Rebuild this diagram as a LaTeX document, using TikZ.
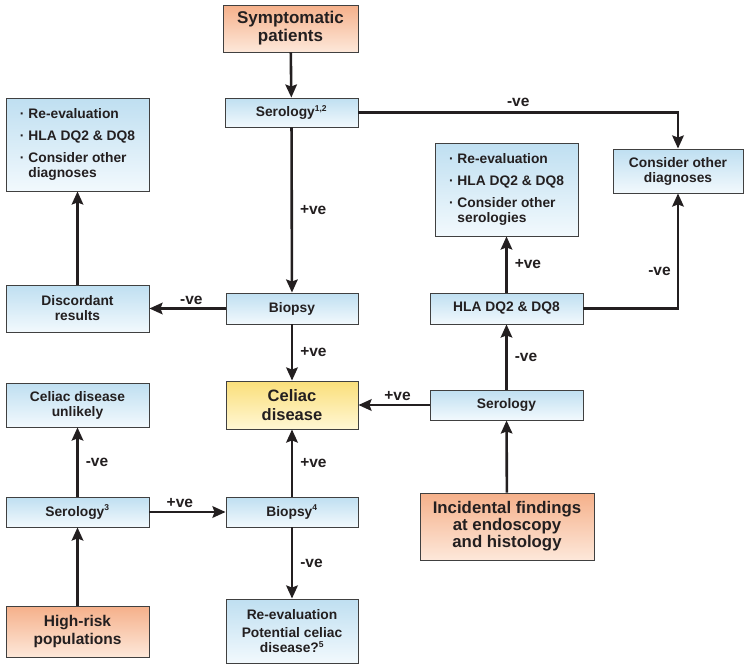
\documentclass[tikz,border=0pt]{standalone}
\usepackage{fontspec}
\setmainfont{Liberation Sans}
\usetikzlibrary{arrows.meta}
\definecolor{bluetop}{HTML}{BFDFF1}
\definecolor{bluebot}{HTML}{F2F9FD}
\definecolor{ortop}{HTML}{F5B08A}
\definecolor{orbot}{HTML}{FDE8DA}
\definecolor{yetop}{HTML}{FADF7A}
\definecolor{yebot}{HTML}{FFF7D4}
\definecolor{ink}{HTML}{231F20}
\newcommand{\supnum}[1]{\textsuperscript{\fontsize{8.5}{9}\selectfont #1}}
\tikzset{
  box/.style={draw=black!75, line width=0.9pt, align=center, inner sep=2pt, text=ink, font=\bfseries},
  bluebox/.style={box, top color=bluetop, bottom color=bluebot, font=\bfseries\fontsize{13.8}{15}\selectfont},
  orbox/.style={box, top color=ortop, bottom color=orbot, font=\bfseries\fontsize{17}{18}\selectfont},
  yebox/.style={box, top color=yetop, bottom color=yebot, font=\bfseries\fontsize{16.5}{19}\selectfont},
  arr/.style={line width=2.6pt, -{Stealth[length=13pt,width=11.5pt,inset=2pt]}, ink},
  lbl/.style={font=\bfseries\fontsize{15.5}{16}\selectfont, text=ink, inner sep=1pt}
}
\begin{document}
\begin{tikzpicture}[x=1pt,y=-1pt]
\useasboundingbox (0,0) rectangle (750,670);
% column 2
\node[orbox, minimum width=135pt, minimum height=47pt] (sym) at (290.5,28.5) {Symptomatic\\patients};
\node[bluebox, minimum width=133pt, minimum height=29pt] (ser1) at (291.5,112.5) {Serology\supnum{1,2}};
\node[bluebox, minimum width=132pt, minimum height=31pt] (bio) at (292,308.5) {Biopsy};
\node[yebox, minimum width=132pt, minimum height=48pt] (cel) at (292,405) {Celiac\\disease};
\node[bluebox, minimum width=132pt, minimum height=30pt] (bio4) at (292,512) {Biopsy\supnum{4}};
\node[bluebox, minimum width=132pt, minimum height=64pt, font=\bfseries\fontsize{13.8}{14.5}\selectfont] (re) at (292,631) {Re-evaluation\\[4pt]Potential celiac\\disease?\supnum{5}};
% column 1
\node[bluebox, minimum width=143pt, minimum height=93pt, align=left] (lt) at (77.5,144.5) {· Re-evaluation\\[7pt]· HLA DQ2 \& DQ8\\[7pt]· Consider other\\\phantom{· }diagnoses};
\node[bluebox, minimum width=143pt, minimum height=47pt] (disc) at (77.5,308.5) {Discordant\\results};
\node[bluebox, minimum width=143pt, minimum height=44pt] (unl) at (77.5,405) {Celiac disease\\unlikely};
\node[bluebox, minimum width=143pt, minimum height=30pt] (ser3) at (77.5,512) {Serology\supnum{3}};
\node[orbox, minimum width=143pt, minimum height=51pt, font=\bfseries\fontsize{15.5}{18}\selectfont] (hr) at (77.5,631.5) {High-risk\\populations};
% column 3
\node[bluebox, minimum width=143pt, minimum height=93pt, align=left] (mid) at (506.5,189.5) {· Re-evaluation\\[7pt]· HLA DQ2 \& DQ8\\[7pt]· Consider other\\\phantom{· }serologies};
\node[bluebox, minimum width=153pt, minimum height=31pt] (hla) at (506.5,308.5) {HLA DQ2 \& DQ8};
\node[bluebox, minimum width=153pt, minimum height=30pt] (ser2) at (506.5,405) {Serology};
\node[orbox, minimum width=174pt, minimum height=67pt, font=\bfseries\fontsize{16.8}{17}\selectfont] (inc) at (507,526.5) {Incidental findings\\at endoscopy\\and histology};
% column 4
\node[bluebox, minimum width=130pt, minimum height=44pt] (cod) at (678,171) {Consider other\\diagnoses};
% connectors
\draw[arr] (sym) -- (ser1);
\draw[arr] (ser1) -- node[lbl, right=6pt] {+ve} (bio);
\draw[arr] (ser1.east) -- node[lbl, above=4pt] {-ve} (cod.north |- ser1.east) -- (cod.north);
\draw[arr] (bio) -- node[lbl, above=2pt, pos=0.45] {-ve} (disc);
\draw[arr] (disc) -- (lt);
\draw[arr] (bio) -- node[lbl, right=6pt] {+ve} (cel);
\draw[arr] (ser2) -- node[lbl, above=2pt, pos=0.45] {+ve} (cel);
\draw[arr] (ser2) -- node[lbl, right=6pt] {-ve} (hla);
\draw[arr] (hla) -- node[lbl, right=6pt] {+ve} (mid);
\draw[arr] (hla.east) -- (cod.south |- hla.east) -- node[lbl, left=5pt, pos=0.32] {-ve} (cod.south);
\draw[arr] (inc) -- (ser2);
\draw[arr] (ser3) -- node[lbl, right=6pt] {-ve} (unl);
\draw[arr] (ser3) -- node[lbl, above=2pt, pos=0.4] {+ve} (bio4);
\draw[arr] (bio4) -- node[lbl, right=6pt] {+ve} (cel);
\draw[arr] (bio4) -- node[lbl, right=6pt] {-ve} (re);
\draw[arr] (hr) -- (ser3);
\end{tikzpicture}
\end{document}
